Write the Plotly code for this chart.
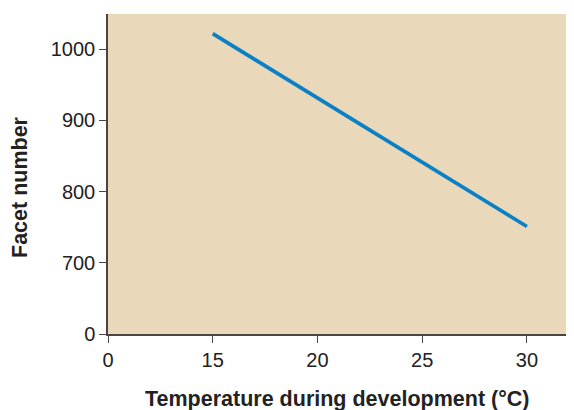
import plotly.graph_objects as go

temperature = [15, 30]
facet_number = [1022, 751]

x_tick_vals = [10, 15, 20, 25, 30]
x_tick_text = ["0", "15", "20", "25", "30"]
y_tick_vals = [600, 700, 800, 900, 1000]
y_tick_text = ["0", "700", "800", "900", "1000"]

fig = go.Figure()
fig.add_trace(go.Scatter(x=temperature, y=facet_number, mode="lines",
                         line=dict(color="#0a80c6", width=3.7), showlegend=False))

font = "Liberation Sans, Arial, Helvetica, sans-serif"
# page body has an 8px default margin; compensate so the plot lands where the reference has it
W, H = 566, 402
L, R, T, B = 100, 1, 6, 76
pw, ph = W - L - R, H - T - B

def px_to_paper_x(page_x):
    return (page_x - 8 - L) / pw

def px_to_paper_y(page_y):
    return (H - B - (page_y - 8)) / ph

fig.update_layout(
    width=W, height=H,
    margin=dict(l=L, r=R, t=T, b=B),
    paper_bgcolor="white", plot_bgcolor="#e9d8ba",
    font=dict(family=font, size=20, color="#222"),
    xaxis=dict(range=[10, 32.2], tickvals=x_tick_vals, ticktext=x_tick_text,
               showgrid=False, zeroline=False, showline=True, linecolor="#4a4542", linewidth=1.5,
               ticks="outside", ticklen=7, tickcolor="#4a4542"),
    yaxis=dict(range=[600, 1049.6], tickvals=y_tick_vals, ticktext=y_tick_text,
               showgrid=False, zeroline=False, showline=True, linecolor="#4a4542", linewidth=1.5,
               ticks="outside", ticklen=7, tickcolor="#4a4542"),
    annotations=[
        dict(text="<b>Temperature during development (°C)</b>", xref="paper", yref="paper",
             x=px_to_paper_x(337), y=px_to_paper_y(399), xanchor="center", yanchor="middle",
             showarrow=False, font=dict(size=21.5, color="#222")),
        dict(text="<b>Facet number</b>", xref="paper", yref="paper", textangle=-90,
             x=px_to_paper_x(20), y=px_to_paper_y(187), xanchor="center", yanchor="middle",
             showarrow=False, font=dict(size=21.5, color="#222")),
    ],
)
fig.write_html("out.html")
